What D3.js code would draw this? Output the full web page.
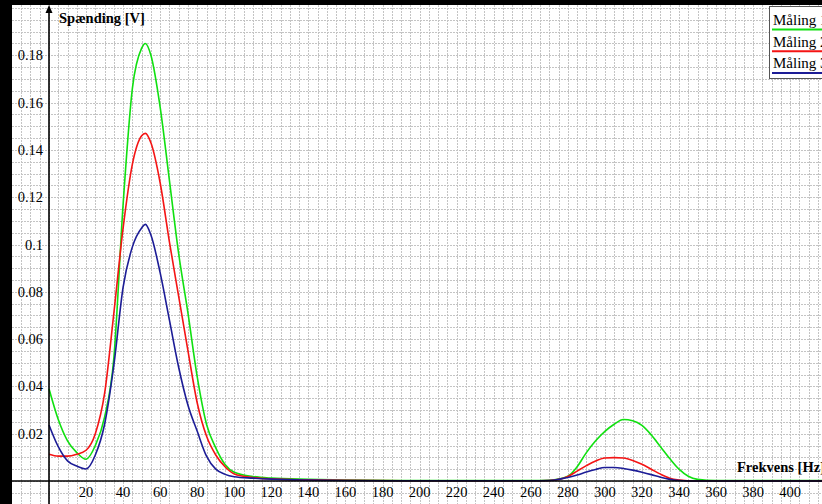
<!DOCTYPE html>
<html>
<head>
<meta charset="utf-8">
<script src="https://cdn.jsdelivr.net/npm/d3@7"></script>
<style>
    html, body { margin: 0; padding: 0; background: #fff; }
    svg { display: block; }
    text { font-family: "Liberation Serif", "Times New Roman", serif; fill: #000; }
</style>
</head>
<body>
<div id="chart"></div>
<script>
// Frequencies [Hz] the measurements were read at.
const freqs = [0, 5, 10, 15, 20, 25, 30, 35, 40, 45, 50, 52, 55, 60, 65, 70, 75, 80, 85, 90, 95,
    100, 110, 120, 140, 160, 200, 240, 260, 270, 280, 285, 290, 295, 300, 305, 310, 315, 320,
    325, 330, 335, 340, 345, 350, 360, 400, 420];

// Voltage [V] for each measurement.
const maaling1 = [0.039, 0.026, 0.017, 0.012, 0.0092, 0.015, 0.027, 0.052, 0.117, 0.166, 0.183, 0.185,
    0.180, 0.158, 0.127, 0.096, 0.071, 0.044, 0.024, 0.014, 0.007,
    0.0037, 0.0019, 0.0012, 0.0007, 0.0004, 0.0002, 0.0002, 0.0002, 0.0003, 0.002, 0.006, 0.012,
    0.017, 0.021, 0.024, 0.026, 0.0255, 0.0235, 0.0195, 0.0145, 0.0095, 0.005, 0.002, 0.0007,
    0.0002, 0.0002, 0.0002];
const maaling2 = [0.0113, 0.0105, 0.0105, 0.0113, 0.013, 0.020, 0.037, 0.071, 0.107, 0.134, 0.146, 0.147,
    0.143, 0.126, 0.101, 0.078, 0.055, 0.033, 0.019, 0.011, 0.006,
    0.003, 0.0015, 0.0009, 0.0005, 0.0003, 0.0001, 0.0001, 0.0001, 0.0002, 0.0019, 0.0042, 0.0065,
    0.0085, 0.0097, 0.0099, 0.0097, 0.0087, 0.0071, 0.005, 0.0029, 0.0012, 0.0004, 0.0001, 0,
    0, 0, 0];
const maaling3 = [0.0237, 0.0145, 0.0085, 0.0063, 0.0051, 0.011, 0.024, 0.049, 0.082, 0.099, 0.107, 0.1085,
    0.104, 0.088, 0.068, 0.048, 0.032, 0.021, 0.0105, 0.005, 0.0028,
    0.0018, 0.0012, 0.0008, 0.0004, 0.0002, 0.0001, 0.0001, 0.0001, 0.0002, 0.0015, 0.0025, 0.0038,
    0.0049, 0.0057, 0.0057, 0.0053, 0.0046, 0.0037, 0.0027, 0.0016, 0.0007, 0.0002, 0, 0,
    0, 0, 0];

const seriesNames = ["Måling 1", "Måling 2", "Måling 3"];
const seriesColors = ["#10e010", "#f41414", "#1c1c96"];

const xTicks = [20, 40, 60, 80, 100, 120, 140, 160, 180, 200, 220, 240, 260, 280, 300, 320, 340, 360, 380, 400];
const yTicks = [0.02, 0.04, 0.06, 0.08, 0.1, 0.12, 0.14, 0.16, 0.18];

const width = 822;
const height = 504;

// Edges of the framed area (a black frame shows on the left and top).
const frameLeft = 12;
const frameTop = 5;

const svg = d3.select("#chart").append("svg")
    .attr("width", width)
    .attr("height", height);

// Scales: 0 Hz sits at x=49, 0 V at y=481.
const x = d3.scaleLinear().domain([0, 400]).range([49, 790.2]);
const y = d3.scaleLinear().domain([0, 0.18]).range([481, 55.3]);

function drawFrame() {
    /*
    Black bands on the left and top edges of the picture.
    */
    svg.append("rect").attr("x", 0).attr("y", 0).attr("width", width).attr("height", frameTop).attr("fill", "#000");
    svg.append("rect").attr("x", 0).attr("y", 0).attr("width", frameLeft).attr("height", height).attr("fill", "#000");
}

function drawGrid() {
    /*
    Dotted grid every 5 Hz and every 0.005 V, covering the whole frame.
    */
    let grid = svg.append("g").attr("class", "grid")
        .attr("stroke", "#c4c4c4")
        .attr("stroke-width", 1)
        .attr("stroke-dasharray", "2,1");

    let xLines = d3.range(-20, 420, 5).filter(f => x(f) > frameLeft);
    let yLines = d3.range(-0.01, 0.205, 0.005).filter(v => y(v) > frameTop && y(v) < height);

    grid.selectAll(".vx").data(xLines).join("line")
        .attr("x1", d => Math.round(x(d)) + 0.5).attr("x2", d => Math.round(x(d)) + 0.5)
        .attr("y1", frameTop).attr("y2", height);

    grid.selectAll(".hy").data(yLines).join("line")
        .attr("x1", frameLeft).attr("x2", width)
        .attr("y1", d => Math.round(y(d)) + 0.5).attr("y2", d => Math.round(y(d)) + 0.5);
}

function drawAxes() {
    /*
    Axis lines through the origin, with the arrow on the voltage axis and tick labels.
    */
    let x0 = Math.round(x(0));
    let y0 = Math.round(y(0));

    svg.append("line")
        .attr("x1", frameLeft).attr("x2", width)
        .attr("y1", y0).attr("y2", y0)
        .attr("stroke", "#000").attr("stroke-width", 1.6);

    svg.append("line")
        .attr("x1", x0).attr("x2", x0)
        .attr("y1", frameTop + 4).attr("y2", height)
        .attr("stroke", "#000").attr("stroke-width", 1.6);

    // Arrow head at the top of the y axis.
    svg.append("path")
        .attr("d", `M${x0},${frameTop} L${x0 - 3.5},${frameTop + 8} L${x0 + 3.5},${frameTop + 8} Z`)
        .attr("fill", "#000");

    svg.append("g").selectAll("text").data(xTicks).join("text")
        .attr("x", d => x(d))
        .attr("y", 497)
        .attr("text-anchor", "middle")
        .attr("font-size", "14.5px")
        .text(d => d);

    svg.append("g").selectAll("text").data(yTicks).join("text")
        .attr("x", 43)
        .attr("y", d => y(d) + 5)
        .attr("text-anchor", "end")
        .attr("font-size", "14.5px")
        .text(d => d3.format("")(d));

    svg.append("text")
        .attr("x", 59).attr("y", 23)
        .attr("font-size", "14.5px").attr("font-weight", "bold")
        .text("Spænding [V]");

    svg.append("text")
        .attr("x", 737).attr("y", 472)
        .attr("font-size", "14.5px").attr("font-weight", "bold")
        .text("Frekvens [Hz]");
}

function drawSeries() {
    /*
    One smooth line per measurement.
    */
    let line = d3.line()
        .x((d, i) => x(freqs[i]))
        .y(d => y(d))
        .curve(d3.curveMonotoneX);

    [maaling1, maaling2, maaling3].forEach(function(values, i) {
        svg.append("path")
            .datum(values)
            .attr("d", line)
            .attr("fill", "none")
            .attr("stroke", seriesColors[i])
            .attr("stroke-width", 1.6)
            .attr("stroke-linejoin", "round");
    });
}

function drawLegend() {
    /*
    Legend box in the top right corner, cut by the right edge.
    */
    let legend = svg.append("g").attr("transform", "translate(769, 6)");

    legend.append("rect")
        .attr("x", 0.5).attr("y", 0.5)
        .attr("width", 80).attr("height", 72)
        .attr("fill", "#fff")
        .attr("stroke", "#555").attr("stroke-width", 1);

    seriesNames.forEach(function(name, i) {
        legend.append("text")
            .attr("x", 4).attr("y", 19 + i * 21.7)
            .attr("font-size", "15px")
            .text(name);
        legend.append("line")
            .attr("x1", 3).attr("x2", 80)
            .attr("y1", 23.5 + i * 21.7).attr("y2", 23.5 + i * 21.7)
            .attr("stroke", seriesColors[i]).attr("stroke-width", 2);
    });
}

drawGrid();
drawSeries();
drawAxes();
drawLegend();
drawFrame();
</script>
</body>
</html>
